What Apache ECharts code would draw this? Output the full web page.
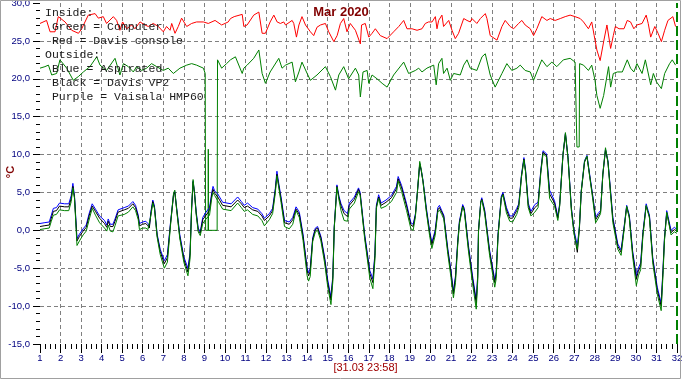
<!DOCTYPE html>
<html><head><meta charset="utf-8">
<script src="https://cdn.jsdelivr.net/npm/echarts@6.0.0/dist/echarts.min.js"></script>
<style>html,body{margin:0;padding:0;background:#fff}#c{width:682px;height:380px}</style>
</head><body><div id="c"></div>
<script>
const chartTitle = 'Mar 2020';
const timeStamp = '[31.03 23:58]';
const yUnit = '°C';
const legendLines = ['Inside:', ' Green = Computer', ' Red = Davis console', 'Outside:', ' Blue = Aspirated', ' Black = Davis VP2', ' Purple = Vaisala HMP60'];
const xTickLabels = ['1','2','3','4','5','6','7','8','9','10','11','12','13','14','15','16','17','18','19','20','21','22','23','24','25','26','27','28','29','30','31','32'];
const yTickLabels = ['-15,0','-10,0','-5,0','0,0','5,0','10,0','15,0','20,0','25,0','30,0'];

// Inside: Davis console (red)
const redDays = [1.0,1.32,1.49,1.73,1.89,2.22,2.54,2.87,3.03,3.35,3.68,3.84,4.08,4.24,4.57,4.73,4.89,5.02,5.22,5.46,5.62,5.87,6.11,6.27,6.51,6.76,7.0,7.16,7.33,7.41,7.57,7.73,7.89,8.14,8.38,8.62,8.95,9.19,9.52,9.84,10.16,10.27,10.45,10.84,10.92,11.08,11.4,11.65,11.81,11.97,12.2,12.38,12.54,12.7,12.86,12.95,13.27,13.35,13.48,13.6,13.75,13.92,14.16,14.32,14.48,14.65,14.89,15.05,15.3,15.46,15.62,15.78,15.94,16.1,16.35,16.59,16.65,16.83,17.0,17.16,17.32,17.56,17.89,18.21,18.46,18.7,18.86,19.1,19.35,19.59,19.75,19.91,20.08,20.24,20.32,20.4,20.56,20.64,20.89,21.05,21.21,21.37,21.62,21.78,21.94,22.02,22.26,22.43,22.67,22.75,22.91,23.24,23.48,23.64,23.88,24.05,24.29,24.45,24.61,24.86,25.02,25.18,25.42,25.67,25.83,26.07,26.32,26.56,26.8,27.04,27.29,27.45,27.69,27.85,27.97,28.1,28.26,28.43,28.59,28.67,28.77,28.9,29.0,29.18,29.42,29.58,29.74,29.9,30.05,30.3,30.5,30.6,30.72,30.92,31.08,31.24,31.4,31.56,31.8,31.93];
const redVals = [27.3,27.7,26.2,26.2,28.2,27.5,26.4,26.0,26.6,28.4,28.6,28.0,28.2,27.3,28.2,27.7,26.4,27.5,26.6,27.1,26.6,27.5,27.1,26.9,27.3,26.9,26.2,26.9,26.4,27.3,26.0,26.9,28.0,26.9,27.3,27.5,27.5,27.3,27.7,27.1,27.5,27.95,28.2,28.5,26.9,27.1,28.4,28.8,26.0,26.0,27.5,28.4,27.5,27.3,27.5,27.1,27.7,27.3,25.5,27.1,28.2,27.1,26.2,25.7,26.8,27.1,27.3,26.2,24.9,25.7,27.3,27.95,26.2,27.3,26.4,24.6,27.1,27.3,25.5,26.0,26.6,25.7,25.3,26.2,26.9,27.7,26.6,26.6,26.4,26.6,27.3,27.5,27.5,28.2,26.6,27.7,28.4,26.9,27.7,26.4,25.3,26.0,27.95,27.7,27.5,27.95,27.3,27.95,28.6,27.95,25.7,25.1,26.9,27.7,26.9,26.6,27.3,27.7,27.1,26.6,25.7,26.6,28.2,27.7,27.95,27.7,27.95,28.2,28.4,28.2,27.95,27.5,26.6,27.5,25.7,23.8,22.4,24.9,27.1,27.3,24.0,25.7,26.9,26.6,26.6,27.7,27.5,26.6,27.1,27.3,28.4,27.3,25.5,26.9,26.0,24.9,26.4,27.7,28.2,26.9];

// Inside: Computer (green)
const inGreenDays = [1.0,1.24,1.41,1.57,1.81,1.97,2.3,2.62,2.87,3.11,3.43,3.76,3.92,4.24,4.65,4.89,5.06,5.3,5.54,5.7,5.95,6.19,6.43,6.68,7.0,7.24,7.49,7.81,8.14,8.38,8.62,8.95,9.04,9.06,9.18,9.19,9.2,9.62,9.64,9.84,10.08,10.27,10.51,10.84,10.92,11.08,11.4,11.65,11.81,11.97,12.2,12.62,12.78,12.95,13.27,13.43,13.6,13.75,14.0,14.16,14.48,14.89,15.13,15.38,15.54,15.78,16.02,16.35,16.51,16.59,16.72,16.92,17.0,17.16,17.4,17.65,17.89,18.21,18.7,18.94,19.27,19.43,19.59,19.83,19.99,20.16,20.28,20.4,20.56,20.64,20.81,20.97,21.13,21.45,21.62,21.78,21.94,22.26,22.51,22.67,22.91,23.15,23.24,23.48,23.72,23.96,24.21,24.37,24.61,24.86,25.02,25.18,25.42,25.67,25.91,26.15,26.47,26.8,27.04,27.12,27.13,27.24,27.26,27.45,27.69,27.85,28.01,28.1,28.26,28.43,28.67,28.77,28.9,29.1,29.34,29.58,29.74,29.9,30.05,30.3,30.46,30.72,30.85,31.0,31.24,31.4,31.64,31.77,31.93];
const inGreenVals = [21.4,21.6,21.8,20.5,20.7,22.5,21.4,19.8,20.3,20.9,21.6,22.9,21.8,21.1,22.7,20.5,22.0,21.6,20.9,21.6,21.1,21.4,22.0,21.6,21.1,21.4,20.7,21.4,21.8,22.0,21.8,21.4,20.7,0,0,10.7,0,0,22.5,21.4,22.0,22.5,22.9,20.7,21.4,21.8,22.7,23.8,20.7,19.4,20.9,22.7,21.4,21.8,22.2,19.6,20.9,22.2,20.7,19.8,20.5,21.6,20.3,18.5,20.5,21.6,20.0,21.4,20.5,17.6,20.9,21.1,19.4,20.5,20.0,19.4,18.9,20.5,22.2,20.7,21.1,21.4,20.9,21.4,21.6,21.8,19.2,22.0,22.7,20.7,21.4,19.8,20.7,20.5,21.8,22.5,21.4,21.1,22.9,23.3,20.5,18.9,18.7,20.7,22.0,21.1,21.4,21.8,21.1,20.9,19.8,20.9,22.5,21.6,22.2,21.6,22.5,22.7,22.2,22.2,11.0,11.0,22.0,21.8,21.1,21.8,19.8,17.8,16.1,17.8,21.6,18.9,20.7,20.9,20.9,22.5,21.4,20.9,22.0,20.7,22.5,19.2,20.7,19.6,18.7,20.7,22.0,22.5,21.8];

// Outside sensors (shared sample days)
const outDays = [1.0,1.2,1.45,1.55,1.65,1.8,1.95,2.2,2.4,2.52,2.6,2.68,2.8,2.92,3.1,3.25,3.4,3.54,3.7,3.9,
4.14,4.25,4.32,4.42,4.55,4.65,4.8,5.1,5.3,5.52,5.65,5.78,5.84,6.0,6.15,6.25,6.32,6.4,6.49,6.57,
6.7,6.85,7.05,7.2,7.35,7.5,7.56,7.65,7.8,8.0,8.2,8.3,8.38,8.45,8.52,8.6,8.7,8.8,8.92,9.08,
9.25,9.36,9.42,9.5,9.65,9.89,10.3,10.62,10.8,10.94,11.1,11.35,11.6,11.8,11.92,12.16,12.32,12.45,12.53,12.6,
12.73,12.9,13.13,13.3,13.46,13.62,13.8,14.0,14.07,14.15,14.27,14.4,14.51,14.67,14.85,15.0,15.16,15.25,15.32,15.45,
15.55,15.65,15.8,15.97,16.05,16.3,16.5,16.58,16.8,17.05,17.2,17.3,17.37,17.48,17.6,17.84,18.1,18.35,18.43,18.6,
18.84,19.05,19.16,19.27,19.37,19.48,19.55,19.64,19.8,19.96,20.07,20.23,20.36,20.44,20.55,20.65,20.85,21.0,21.12,21.22,
21.33,21.41,21.57,21.65,21.85,22.05,22.23,22.3,22.34,22.45,22.5,22.64,22.88,23.13,23.2,23.29,23.45,23.53,23.7,23.86,
24.0,24.2,24.3,24.43,24.55,24.63,24.76,24.89,25.08,25.24,25.37,25.48,25.65,25.8,26.04,26.2,26.29,26.45,26.57,26.7,
26.86,26.99,27.15,27.25,27.34,27.5,27.62,27.75,27.91,28.04,28.15,28.28,28.39,28.52,28.64,28.88,29.12,29.28,29.44,29.55,
29.68,29.84,30.02,30.12,30.23,30.34,30.5,30.66,30.82,31.04,31.23,31.32,31.39,31.5,31.71,31.87,32.0];
const outBlue = [0.9,1.0,1.1,2.0,2.9,3.0,3.6,3.5,3.5,4.6,6.2,4.5,-1.1,-0.5,0.2,0.7,2.3,3.5,2.8,1.9,
1.3,0.7,1.5,0.8,0.8,1.5,2.7,3.0,3.2,3.8,3.3,2.0,0.9,1.1,1.2,0.9,0.5,2.5,4.0,3.2,
-0.5,-2.5,-4.0,-3.2,1.0,4.8,5.1,3.0,-0.5,-3.5,-5.0,-3.0,3.0,6.5,5.0,2.5,0.3,-0.2,1.7,2.4,
3.0,5.0,5.8,5.2,4.8,3.7,3.5,4.4,3.8,3.3,3.6,3.0,2.8,2.2,1.6,2.2,2.9,5.5,7.8,6.5,
4.4,1.3,1.1,1.7,3.1,2.4,-0.5,-5.0,-5.6,-5.0,-1.0,0.3,0.5,-0.8,-3.5,-6.5,-8.8,-6.0,0.5,6.0,
4.5,3.5,2.6,2.2,3.6,4.4,5.6,5.0,-0.5,-5.3,-6.4,-3.0,3.3,4.7,3.6,4.0,4.6,5.8,7.1,5.9,
3.5,1.0,0.8,2.2,5.2,8.8,8.0,6.6,3.0,0.0,-1.6,0.0,3.0,3.3,2.6,2.0,-2.5,-5.3,-8.0,-6.0,
-1.4,1.2,3.4,2.9,-2.0,-6.0,-9.2,-6.0,0.0,3.8,4.3,2.7,-2.6,-6.5,-5.5,-0.5,4.5,5.0,3.0,1.9,
1.9,2.9,3.5,7.3,9.6,8.0,3.6,2.5,3.4,3.7,7.9,10.5,10.1,5.3,3.9,1.8,3.5,10.0,12.8,9.6,
3.0,0.0,-2.0,0.5,5.2,9.2,9.9,7.4,4.4,1.7,2.2,2.6,7.4,10.7,9.2,1.7,-1.8,-2.6,0.8,3.3,
2.0,-2.7,-6.0,-5.0,-4.3,-0.3,3.5,2.0,-3.6,-7.5,-9.6,-5.0,-1.0,2.6,0.0,0.4,0.1];
const outBlack = [0.5,0.6,0.7,1.6,2.5,2.6,3.2,3.1,3.1,4.2,5.8,4.3,-1.4,-0.8,-0.1,0.4,2.0,3.2,2.5,1.6,
0.9,0.4,1.2,0.5,0.5,1.2,2.4,2.7,2.9,3.5,3.0,1.8,0.6,0.8,0.9,0.6,0.3,2.3,3.8,3.0,
-0.7,-2.8,-4.4,-3.6,0.8,4.7,5.0,2.8,-0.8,-3.8,-5.5,-3.3,2.9,6.4,4.8,2.3,0.0,-0.4,1.4,2.0,
2.6,4.7,5.4,4.9,4.4,3.3,3.1,4.0,3.5,3.0,3.2,2.7,2.5,1.9,1.3,1.9,2.6,5.2,7.4,6.2,
4.1,1.0,0.8,1.4,2.8,2.1,-0.8,-5.3,-6.0,-5.4,-1.2,0.1,0.3,-1.0,-3.8,-6.9,-9.2,-6.3,0.4,5.8,
4.3,3.2,2.2,1.8,3.3,4.1,5.4,4.8,-0.8,-5.7,-6.9,-3.3,3.1,4.4,3.3,3.7,4.3,5.5,6.8,5.6,
3.2,0.7,0.5,2.0,5.1,8.8,7.9,6.4,2.7,-0.3,-1.9,-0.3,2.7,3.0,2.4,1.8,-2.8,-5.6,-8.4,-6.3,
-1.6,1.0,3.2,2.7,-2.3,-6.4,-9.6,-6.3,-0.1,3.7,4.1,2.5,-2.9,-6.9,-5.8,-0.7,4.3,4.8,2.7,1.6,
1.6,2.6,3.3,7.1,9.4,7.8,3.3,2.2,3.0,3.4,7.7,10.3,9.9,4.8,3.6,1.6,3.3,9.9,12.7,9.4,
2.8,-0.3,-2.9,0.2,5.0,9.0,9.7,7.2,4.2,1.4,1.9,2.4,7.3,10.6,9.0,1.4,-2.1,-2.9,0.6,3.1,
1.8,-3.0,-6.4,-5.4,-4.7,-0.5,3.2,1.8,-3.9,-7.9,-10.0,-5.3,-1.2,2.3,-0.3,0.1,-0.1];
const outGreen = [0.1,0.2,0.3,1.2,2.0,2.1,2.7,2.6,2.6,3.8,5.6,4.2,-2.0,-1.4,-0.6,-0.1,1.5,2.9,2.0,1.0,
0.3,-0.1,0.7,-0.1,-0.2,0.6,1.9,2.1,2.4,3.1,2.6,1.4,0.1,0.3,0.3,0.1,-0.1,2.0,3.6,2.9,
-0.9,-3.2,-5.0,-4.2,0.6,4.9,5.3,2.7,-1.0,-4.2,-6.0,-3.8,3.2,6.7,4.9,2.1,-0.2,-0.7,0.9,1.5,
2.0,4.3,5.0,4.6,3.9,2.8,2.6,3.6,3.0,2.5,2.7,2.1,1.9,1.3,0.6,1.4,2.2,4.9,7.2,6.0,
3.7,0.5,0.2,0.8,2.6,1.7,-1.3,-6.0,-6.7,-6.1,-1.5,-0.2,0.0,-1.4,-4.3,-7.4,-9.8,-6.8,0.3,5.7,
4.0,2.6,1.3,1.2,2.8,3.6,5.1,4.6,-1.1,-6.3,-7.7,-3.8,2.9,4.2,2.9,3.2,3.8,5.0,6.5,5.1,
2.6,0.2,0.0,1.8,5.2,9.1,8.1,6.4,2.5,-0.7,-2.4,-0.7,2.4,2.7,2.1,1.5,-3.2,-6.2,-8.9,-6.9,
-1.9,0.8,3.1,2.5,-2.7,-7.0,-10.4,-6.8,-0.2,3.7,4.0,2.2,-3.3,-7.5,-6.4,-0.9,4.2,4.7,2.3,1.2,
1.1,2.1,3.0,7.0,9.3,7.7,3.0,1.9,2.4,3.0,7.5,10.1,9.7,4.2,3.2,1.3,3.2,10.0,12.9,9.4,
2.6,-0.5,-2.5,0.4,5.2,9.1,9.8,7.1,3.9,1.0,1.5,2.2,7.4,10.9,9.0,1.0,-2.5,-3.3,0.4,3.2,
1.6,-3.4,-7.3,-6.0,-5.2,-0.8,3.3,1.6,-4.3,-8.4,-10.6,-5.8,-1.4,2.4,-0.6,-0.2,-0.4];

const nowDay = 32;

function pairs(xs, ys) { return xs.map((x, i) => [x, ys[i]]); }
function lineSeries(name, xs, ys, color, extra) {
  return Object.assign({
    name, type: 'line', data: pairs(xs, ys), showSymbol: false, symbol: 'none',
    silent: true, animation: false, lineStyle: { color, width: 1 }, emphasis: { disabled: true }
  }, extra || {});
}

const chart = echarts.init(document.getElementById('c'), null, { renderer: 'canvas' });
const tickColor = '#000000';
const labelColor = '#000080';
const gridLine = { color: '#808080', width: 1, type: [4, 3] };

chart.setOption({
  animation: false,
  backgroundColor: '#ffffff',
  grid: { left: 40, right: 5, top: 3, bottom: 36, containLabel: false, outerBoundsMode: 'none' },
  xAxis: {
    type: 'value', min: 1, max: 32, interval: 1,
    axisLine: { show: false, onZero: false },
    axisTick: { show: true, length: 9, lineStyle: { color: tickColor } },
    minorTick: { show: true, splitNumber: 4, length: 5, lineStyle: { color: tickColor } },
    axisLabel: { color: labelColor, fontSize: 9.5, fontFamily: 'Liberation Sans, Arial', margin: 9,
      formatter: v => xTickLabels[Math.round(v) - 1] },
    splitLine: { show: true, showMinLine: false, showMaxLine: false, lineStyle: gridLine }
  },
  yAxis: {
    type: 'value', min: -15, max: 30, interval: 5,
    axisLine: { show: false, onZero: false },
    axisTick: { show: true, length: 7, lineStyle: { color: tickColor } },
    minorTick: { show: true, splitNumber: 5, length: 4, lineStyle: { color: tickColor } },
    axisLabel: { color: labelColor, fontSize: 9.5, fontFamily: 'Liberation Sans, Arial', margin: 10,
      formatter: v => yTickLabels[Math.round((v + 15) / 5)] },
    splitLine: { show: true, showMinLine: false, showMaxLine: false, lineStyle: gridLine }
  },
  series: [
    lineSeries('Davis console', redDays, redVals, '#ff0000'),
    lineSeries('Computer', inGreenDays, inGreenVals, '#008000'),
    lineSeries('Aspirated', outDays, outBlue, '#0000ff'),
    lineSeries('Davis VP2', outDays, outBlack, '#000000'),
    lineSeries('Vaisala HMP60', outDays, outGreen, '#008000', {
      markLine: { silent: true, symbol: 'none', label: { show: false }, animation: false,
        lineStyle: { color: '#008000', width: 2, type: [10, 4] }, data: [{ xAxis: nowDay }] }
    })
  ],
  graphic: [
    { type: 'rect', silent: true, z: 100, shape: { x: 0.5, y: 0.5, width: 680, height: 378 },
      style: { fill: 'none', stroke: '#a0a0a0', lineWidth: 1 } },
    { type: 'text', silent: true, z: 100, x: 45, y: 6.4,
      style: { text: legendLines.join('\n'), fill: '#1a1a1a', font: '11.5px "Liberation Mono", "Courier New", monospace',
        lineHeight: 13.9, align: 'left', verticalAlign: 'top' } },
    { type: 'text', silent: true, z: 100, x: 341, y: 12.5,
      style: { text: chartTitle, fill: '#800000', font: 'bold 13px "Liberation Sans", Arial, sans-serif',
        align: 'center', verticalAlign: 'middle', textShadowColor: 'rgba(120,60,140,0.6)', textShadowOffsetX: 1, textShadowOffsetY: 1 } },
    { type: 'text', silent: true, z: 100, x: 365.5, y: 368,
      style: { text: timeStamp, fill: '#a00000', font: '11px "Liberation Sans", Arial, sans-serif',
        align: 'center', verticalAlign: 'middle' } },
    { type: 'text', silent: true, z: 100, x: 11, y: 172, rotation: Math.PI / 2,
      style: { text: yUnit, fill: '#800000', font: 'bold 11px "Liberation Sans", Arial, sans-serif',
        align: 'center', verticalAlign: 'middle' } }
  ]
});
</script>
</body></html>
